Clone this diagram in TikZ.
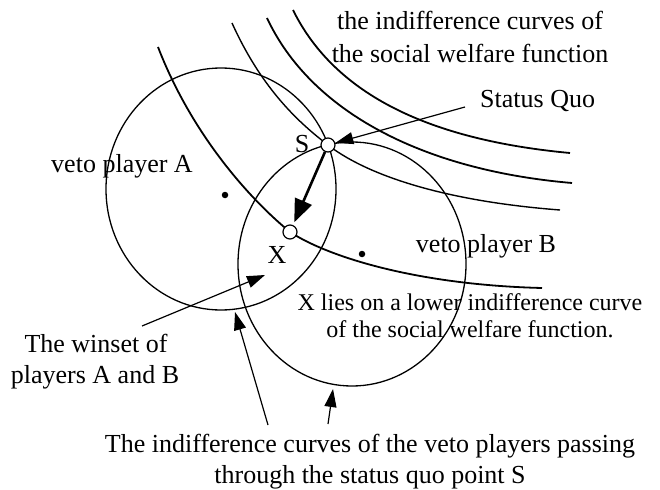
\documentclass[tikz,border=0pt]{standalone}
\usepackage{fontspec}
\setmainfont{Liberation Serif}
\usetikzlibrary{arrows.meta}
\begin{document}
\begin{tikzpicture}[x=1pt,y=-1pt,
  ell/.style={line width=1.3pt},
  swf/.style={line width=1.8pt},
  swfthin/.style={line width=1.4pt},
  pt/.style={circle, draw, fill=white, line width=1.2pt, minimum size=14pt, inner sep=0pt},
  dotn/.style={circle, fill=black, minimum size=6.5pt, inner sep=0pt},
  lbl/.style={font=\fontsize{26}{31}\selectfont, inner sep=0pt, anchor=base},
  lbls/.style={font=\fontsize{24}{27}\selectfont, inner sep=0pt, anchor=base},
  ptr/.style={line width=1.2pt, -{Triangle[length=18pt,width=12pt]}},
  bigarr/.style={line width=2.6pt, -{Triangle[length=23pt,width=18pt]}}]
\useasboundingbox (0,0) rectangle (660,489);

% key points
\coordinate (Spt) at (328,145);
\coordinate (Xpt) at (290,232);

% indifference ellipses of the veto players
\draw[ell] (221,189) ellipse [x radius=115pt, y radius=121pt];
\draw[ell] (352,264) ellipse [x radius=114pt, y radius=122pt];

% indifference curves of the social welfare function
\draw[swf] (158,47) .. controls (190,130) and (245,195) .. (Xpt)
  .. controls (330,258) and (420,285) .. (542,288);
\draw[swfthin] (232,23) .. controls (260,85) and (295,120) .. (Spt)
  .. controls (360,170) and (430,200) .. (560,210);
\draw[swf] (267,18) .. controls (310,110) and (420,170) .. (572,183);
\draw[swf] (293,10) .. controls (335,95) and (430,140) .. (570,153);

% ideal points
\node[dotn] (A) at (225,195) {};
\node[dotn] (B) at (362,254) {};

% status quo and X
\node[pt] (S) at (Spt) {};
\node[pt] (X) at (Xpt) {};

% labels
\node[lbl] (t1a) at (470,30) {the indifference curves of};
\node[lbl] (t1b) at (470,63) {the social welfare function};
\node[lbl, anchor=base west] (sq) at (480,108) {Status Quo};
\node[lbl] (va) at (122,172) {veto player A};
\node[lbl] (vb) at (486,252) {veto player B};
\node[lbl] (Sl) at (302,153) {S};
\node[lbl] (Xl) at (277,263) {X};
\node[lbls] (xl1) at (470,310) {X lies on a lower indifference curve};
\node[lbls] (xl2) at (470,337) {of the social welfare function.};
\node[lbl] (w1) at (96,352) {The winset of};
\node[lbl] (w2) at (95,383) {players A and B};
\node[lbl] (b1) at (370,452) {The indifference curves of the veto players passing};
\node[lbl] (b2) at (370,483) {through the status quo point S};

% pointers
\coordinate (sqa) at (465,107);
\coordinate (wsa) at (142,326);
\coordinate (wst) at (265,275);
\coordinate (la) at (268,425);
\coordinate (lt) at (235,312);
\coordinate (ra) at (328,424);
\coordinate (rt) at (333,389);

\draw[ptr] (sqa) -- (S);
\draw[ptr] (wsa) -- (wst);
\draw[ptr] (la) -- (lt);
\draw[ptr] (ra) -- (rt);
\draw[bigarr, shorten >=3pt] (S) -- (X);
\end{tikzpicture}
\end{document}
